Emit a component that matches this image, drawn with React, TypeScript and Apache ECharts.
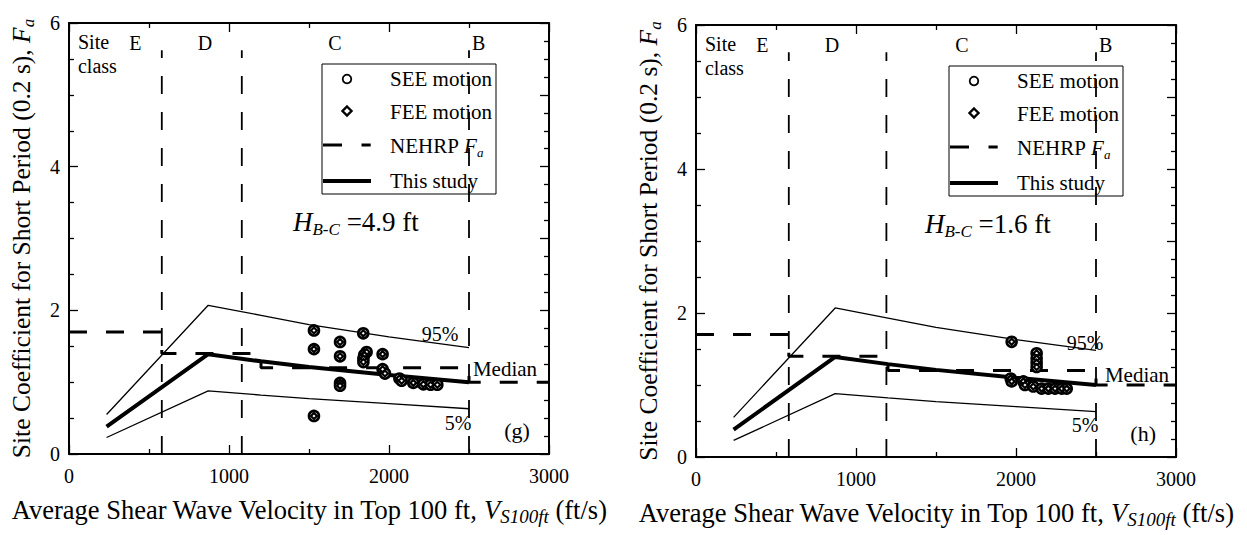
import React, { useEffect, useRef } from "react";
import * as echarts from "echarts";

// ---------- data ----------
const curveVs = [235, 870, 1200, 1500, 2000, 2500];
const fa95 = [0.55, 2.07, 1.93, 1.8, 1.63, 1.48];
const faMedian = [0.38, 1.39, 1.29, 1.21, 1.1, 1.0];
const fa5 = [0.23, 0.88, 0.82, 0.77, 0.7, 0.63];

const nehrpVs = [0, 580, 580, 1200, 1200, 2500, 2500, 3000];
const nehrpFa = [1.7, 1.7, 1.4, 1.4, 1.2, 1.2, 1.0, 1.0];

const boundariesG = [580, 1080, 2500];
const boundariesH = [580, 1190, 2500];

const siteClasses = ["E", "D", "C", "B"];
const siteClassVs = [415, 850, 1662, 2560];

const pointsGVs = [1531, 1531, 1531, 1694, 1694, 1694, 1694, 1839, 1860, 1845, 1840, 1840, 1960, 1960, 1975, 2065, 2079, 2152, 2215, 2260, 2302];
const pointsGFa = [1.72, 1.46, 0.53, 1.56, 1.36, 0.99, 0.95, 1.68, 1.42, 1.38, 1.33, 1.28, 1.39, 1.18, 1.12, 1.05, 1.02, 0.99, 0.97, 0.965, 0.965];

const pointsHVs = [1973, 2129, 2129, 2129, 2129, 1967, 1973, 2046, 2056, 2108, 2160, 2202, 2244, 2286, 2317];
const pointsHFa = [1.6, 1.44, 1.37, 1.31, 1.25, 1.09, 1.05, 1.05, 1.0, 0.98, 0.95, 0.95, 0.95, 0.95, 0.95];

const xTicks = [0, 1000, 2000, 3000];
const yTicks = [0, 2, 4, 6];

// ---------- layout ----------
const FONT = '"Liberation Serif", "Times New Roman", serif';
const GRIDS = [
  { left: 69, top: 23, width: 480, height: 431 },
  { left: 696, top: 25, width: 480, height: 432 },
];
const X_MAX = 3000;
const Y_MAX = 6;

const panels = [
  {
    letter: "(g)",
    hbc: "4.9",
    boundaries: boundariesG,
    vs: pointsGVs,
    fa: pointsGFa,
    at95: [2319, 1.67],
    atMedian: [2725, 1.18],
    at5: [2431, 0.43],
    atLetter: [2800, 0.33],
    atH: [1400, 3.23],
  },
  {
    letter: "(h)",
    hbc: "1.6",
    boundaries: boundariesH,
    vs: pointsHVs,
    fa: pointsHFa,
    at95: [2431, 1.58],
    atMedian: [2756, 1.14],
    at5: [2431, 0.44],
    atLetter: [2795, 0.33],
    atH: [1431, 3.23],
  },
];

const zip = (xs: number[], ys: number[]) => xs.map((x, i) => [x, ys[i]]);

function toPx(g: any, vs: number, fa: number) {
  return [g.left + (vs / X_MAX) * g.width, g.top + (1 - fa / Y_MAX) * g.height];
}

function buildOption() {
  const xAxis: any[] = [];
  const yAxis: any[] = [];
  const series: any[] = [];
  const graphic: any[] = [];

  const axisLine = { show: true, onZero: false, lineStyle: { color: "#000", width: 2 } };

  GRIDS.forEach((g, i) => {
    xAxis.push({
      type: "value",
      gridIndex: i,
      position: "bottom",
      min: 0,
      max: X_MAX,
      interval: 1000,
      axisLine,
      axisTick: { show: true, inside: true, length: 9, lineStyle: { color: "#000", width: 1.3 } },
      minorTick: { show: true, splitNumber: 2, length: 5, lineStyle: { color: "#000", width: 1.3 } },
      splitLine: { show: false },
      axisLabel: {
        show: true,
        margin: 12,
        color: "#000",
        fontSize: 20,
        fontFamily: FONT,
        formatter: (v: number) => (xTicks.includes(v) ? String(v) : ""),
      },
      name: "Average Shear Wave Velocity in Top 100 ft, {i|V}{s|S100ft} (ft/s)",
      nameLocation: "middle",
      nameGap: 40,
      nameTextStyle: {
        color: "#000",
        fontSize: 26.5,
        fontFamily: FONT,
        lineHeight: 32,
        rich: {
          i: { fontStyle: "italic", fontSize: 26.5, fontFamily: FONT, color: "#000", lineHeight: 32 },
          s: { fontStyle: "italic", fontSize: 19, fontFamily: FONT, color: "#000", verticalAlign: "bottom" },
        },
      },
    });
    xAxis.push({
      type: "value",
      gridIndex: i,
      position: "top",
      min: 0,
      max: X_MAX,
      interval: 1000,
      axisLine,
      axisTick: { show: true, inside: true, length: 9, lineStyle: { color: "#000", width: 1.3 } },
      minorTick: { show: true, splitNumber: 2, length: 5, lineStyle: { color: "#000", width: 1.3 } },
      splitLine: { show: false },
      axisLabel: { show: false },
    });
    yAxis.push({
      type: "value",
      gridIndex: i,
      position: "left",
      min: 0,
      max: Y_MAX,
      interval: 2,
      axisLine,
      axisTick: { show: true, inside: true, length: 9, lineStyle: { color: "#000", width: 1.3 } },
      minorTick: { show: true, splitNumber: 4, length: 5, lineStyle: { color: "#000", width: 1.3 } },
      splitLine: { show: false },
      axisLabel: {
        show: true,
        margin: 9,
        color: "#000",
        fontSize: 20,
        fontFamily: FONT,
        formatter: (v: number) => (yTicks.includes(v) ? String(v) : ""),
      },
      name: "Site Coefficient for Short Period (0.2 s), {i|F}{s|a}",
      nameLocation: "middle",
      nameGap: 32,
      nameTextStyle: {
        color: "#000",
        fontSize: 25.5,
        fontFamily: FONT,
        lineHeight: 31,
        rich: {
          i: { fontStyle: "italic", fontSize: 25.5, fontFamily: FONT, color: "#000", lineHeight: 31 },
          s: { fontStyle: "italic", fontSize: 17, fontFamily: FONT, color: "#000", verticalAlign: "bottom" },
        },
      },
    });
    yAxis.push({
      type: "value",
      gridIndex: i,
      position: "right",
      min: 0,
      max: Y_MAX,
      interval: 1,
      axisLine,
      axisTick: { show: true, inside: true, length: 9, lineStyle: { color: "#000", width: 1.3 } },
      minorTick: { show: true, splitNumber: 4, length: 5, lineStyle: { color: "#000", width: 1.3 } },
      splitLine: { show: false },
      axisLabel: { show: false },
    });
  });

  panels.forEach((p, i) => {
    const ax = { xAxisIndex: 2 * i, yAxisIndex: 2 * i };
    p.boundaries.forEach((b) => {
      series.push({
        type: "line",
        name: "Site class boundary",
        ...ax,
        data: [
          [b, 0],
          [b, 5.62],
        ],
        symbol: "none",
        silent: true,
        z: 2,
        lineStyle: { color: "#000", width: 1.8, type: [18, 18] },
      });
    });
    series.push({
      type: "line",
      name: "NEHRP Fa",
      ...ax,
      data: zip(nehrpVs, nehrpFa),
      symbol: "none",
      z: 3,
      lineStyle: { color: "#000", width: 3, type: [18, 19] },
    });
    series.push({
      type: "line",
      name: "95%",
      ...ax,
      data: zip(curveVs, fa95),
      symbol: "none",
      z: 4,
      lineStyle: { color: "#000", width: 1.3 },
    });
    series.push({
      type: "line",
      name: "5%",
      ...ax,
      data: zip(curveVs, fa5),
      symbol: "none",
      z: 4,
      lineStyle: { color: "#000", width: 1.3 },
    });
    series.push({
      type: "line",
      name: "This study",
      ...ax,
      data: zip(curveVs, faMedian),
      symbol: "none",
      z: 4,
      lineStyle: { color: "#000", width: 4 },
    });
    series.push({
      type: "scatter",
      name: "SEE motion",
      ...ax,
      data: zip(p.vs, p.fa),
      symbol: "circle",
      symbolSize: 10,
      z: 6,
      itemStyle: { color: "#fff", borderColor: "#000", borderWidth: 2.6, opacity: 1 },
    });
    series.push({
      type: "scatter",
      name: "FEE motion",
      ...ax,
      data: zip(p.vs, p.fa),
      symbol: "diamond",
      symbolSize: 6,
      z: 7,
      itemStyle: { color: "#fff", borderColor: "#000", borderWidth: 2.2, opacity: 1 },
    });

    // ---------- annotations ----------
    const g = GRIDS[i];
    const T = (vs: number, fa: number) => toPx(g, vs, fa);
    const txt = (pos: number[], text: string, fontSize: number, align = "center") => ({
      type: "text",
      x: pos[0],
      y: pos[1],
      z: 50,
      style: { text, fontSize, fontFamily: FONT, fill: "#000", align, verticalAlign: "middle" },
    });
    graphic.push(txt(T(56, 5.74), "Site", 20, "left"));
    graphic.push(txt(T(56, 5.4), "class", 20, "left"));
    siteClasses.forEach((c, k) => graphic.push(txt(T(siteClassVs[k], 5.72), c, 20)));
    graphic.push(txt(T(p.at95[0], p.at95[1]), "95%", 20));
    graphic.push(txt(T(p.atMedian[0], p.atMedian[1]), "Median", 21));
    graphic.push(txt(T(p.at5[0], p.at5[1]), "5%", 20));
    graphic.push(txt(T(p.atLetter[0], p.atLetter[1]), p.letter, 22));
    const hp = T(p.atH[0], p.atH[1]);
    graphic.push({
      type: "text",
      x: hp[0],
      y: hp[1],
      z: 50,
      style: {
        text: "{i|H}{s|B-C}{n| =" + p.hbc + " ft}",
        fontFamily: FONT,
        fill: "#000",
        align: "left",
        verticalAlign: "middle",
        rich: {
          i: { fontStyle: "italic", fontSize: 27, fontFamily: FONT, lineHeight: 32 },
          s: { fontStyle: "italic", fontSize: 17, fontFamily: FONT, verticalAlign: "bottom" },
          n: { fontSize: 27, fontFamily: FONT, lineHeight: 32 },
        },
      },
    });

    // ---------- legend ----------
    const lt = (y: number, text: string) => ({
      type: "text",
      x: 68,
      y,
      style: { text, fontSize: 21, fontFamily: FONT, fill: "#000", align: "left", verticalAlign: "middle" },
    });
    graphic.push({
      type: "group",
      x: g.left + 253,
      y: g.top + 41,
      z: 100,
      children: [
        { type: "rect", shape: { x: 0, y: 0, width: 174, height: 130 }, style: { fill: "#fff", stroke: "#000", lineWidth: 1 } },
        { type: "circle", shape: { cx: 25, cy: 15, r: 4.3 }, style: { fill: "#fff", stroke: "#000", lineWidth: 1.8 } },
        {
          type: "polygon",
          shape: { points: [[25, 42.5], [29.5, 47], [25, 51.5], [20.5, 47]] },
          style: { fill: "#fff", stroke: "#000", lineWidth: 2.4 },
        },
        { type: "line", shape: { x1: 1, y1: 81, x2: 20, y2: 81 }, style: { stroke: "#000", lineWidth: 3 } },
        { type: "line", shape: { x1: 39.5, y1: 81, x2: 48.7, y2: 81 }, style: { stroke: "#000", lineWidth: 3 } },
        { type: "line", shape: { x1: 1, y1: 117, x2: 49, y2: 117 }, style: { stroke: "#000", lineWidth: 4 } },
        lt(15, "SEE motion"),
        lt(48, "FEE motion"),
        {
          type: "text",
          x: 68,
          y: 82,
          style: {
            text: "{n|NEHRP }{i|F}{s|a}",
            fill: "#000",
            fontFamily: FONT,
            align: "left",
            verticalAlign: "middle",
            rich: {
              n: { fontSize: 21, fontFamily: FONT, lineHeight: 26 },
              i: { fontSize: 21, fontStyle: "italic", fontFamily: FONT, lineHeight: 26 },
              s: { fontSize: 13, fontStyle: "italic", fontFamily: FONT, verticalAlign: "bottom" },
            },
          },
        },
        lt(117, "This study"),
      ],
    });
  });

  return {
    animation: false,
    backgroundColor: "#fff",
    textStyle: { fontFamily: FONT, color: "#000" },
    grid: GRIDS.map((g) => ({ ...g, containLabel: false })),
    xAxis,
    yAxis,
    series,
    graphic,
  };
}

export default function App() {
  const ref = useRef<HTMLDivElement>(null);
  useEffect(() => {
    if (!ref.current) return;
    const chart = echarts.init(ref.current, undefined, { renderer: "svg" });
    chart.setOption(buildOption() as any);
    return () => chart.dispose();
  }, []);
  return (
    <div
      ref={ref}
      style={{ position: "absolute", left: 0, top: 0, width: 1247, height: 535, background: "#fff" }}
    />
  );
}
